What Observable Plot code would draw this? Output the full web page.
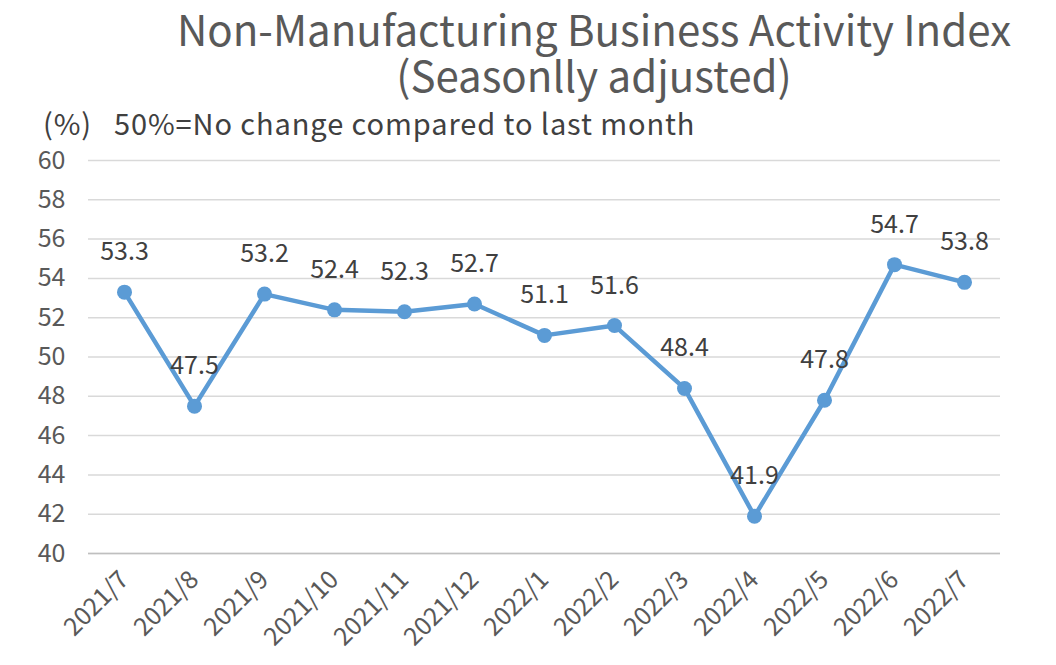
<!DOCTYPE html>
<html>
<head>
<meta charset="utf-8">
<script src="https://cdn.jsdelivr.net/npm/d3@7"></script>
<script src="https://cdn.jsdelivr.net/npm/@observablehq/plot@0.6"></script>
<style>
  html, body { margin: 0; padding: 0; background: #fff; }
  body { width: 1056px; height: 665px; overflow: hidden; font-family: "Noto Sans CJK SC", "Noto Sans", sans-serif; }
  #head { position: relative; height: 135px; color: #595959; }
  .title { position: absolute; left: 0; width: 1188px; text-align: center; font-size: 42px; line-height: 46px; height: 46px; white-space: nowrap; }
  #t1 { top: 5px; }
  #t2 { top: 51px; }
  #sub { position: absolute; left: 43px; top: 108px; font-size: 29px; line-height: 29px; color: #404040; white-space: nowrap; letter-spacing: 0.9px; }
  #sub span { margin-right: 22px; }
  svg { overflow: visible; }
</style>
</head>
<body>
<div id="head">
  <div class="title" id="t1">Non-Manufacturing Business Activity Index</div>
  <div class="title" id="t2">(Seasonlly adjusted)</div>
  <div id="sub"><span>(%)</span>50%=No change compared to last month</div>
</div>
<div id="chart"></div>
<script>
const months = ["2021/7","2021/8","2021/9","2021/10","2021/11","2021/12","2022/1","2022/2","2022/3","2022/4","2022/5","2022/6","2022/7"];
const values = [53.3, 47.5, 53.2, 52.4, 52.3, 52.7, 51.1, 51.6, 48.4, 41.9, 47.8, 54.7, 53.8];
const yTicks = [40, 42, 44, 46, 48, 50, 52, 54, 56, 58, 60];

const data = months.map((m, i) => ({month: m, value: values[i]}));
const font = '"Noto Sans CJK SC", "Noto Sans", sans-serif';

const chart = Plot.plot({
  width: 1056,
  height: 530,
  marginLeft: 88,
  marginRight: 56,
  marginTop: 25,
  marginBottom: 112,
  style: {fontFamily: font, background: "#fff", overflow: "visible"},
  x: {type: "point", domain: months, padding: 0.48, label: null},
  y: {domain: [40, 60], ticks: yTicks, label: null},
  marks: [
    Plot.gridY(yTicks, {stroke: "#d9d9d9", strokeOpacity: 1, strokeWidth: 1.5}),
    Plot.ruleX([0], {frameAnchor: "left", stroke: "#bfbfbf", strokeWidth: 1.5}),
    Plot.ruleY([40], {stroke: "#bfbfbf", strokeWidth: 1.5}),
    Plot.axisY(yTicks, {tickSize: 0, tickPadding: 23, fontSize: 25, fill: "#595959", tickFormat: d => String(d)}),
    Plot.axisX({tickSize: 0, tickRotate: -45, tickPadding: 22, fontSize: 25, fill: "#595959"}),
    Plot.line(data, {x: "month", y: "value", stroke: "#5b9bd5", strokeWidth: 4.5}),
    Plot.dot(data, {x: "month", y: "value", r: 7.5, fill: "#5b9bd5", stroke: "none"}),
    Plot.text(data, {x: "month", y: "value", text: d => d.value.toFixed(1), dy: -40, fontSize: 25, fill: "#404040"})
  ]
});
document.getElementById("chart").appendChild(chart);
</script>
</body>
</html>
